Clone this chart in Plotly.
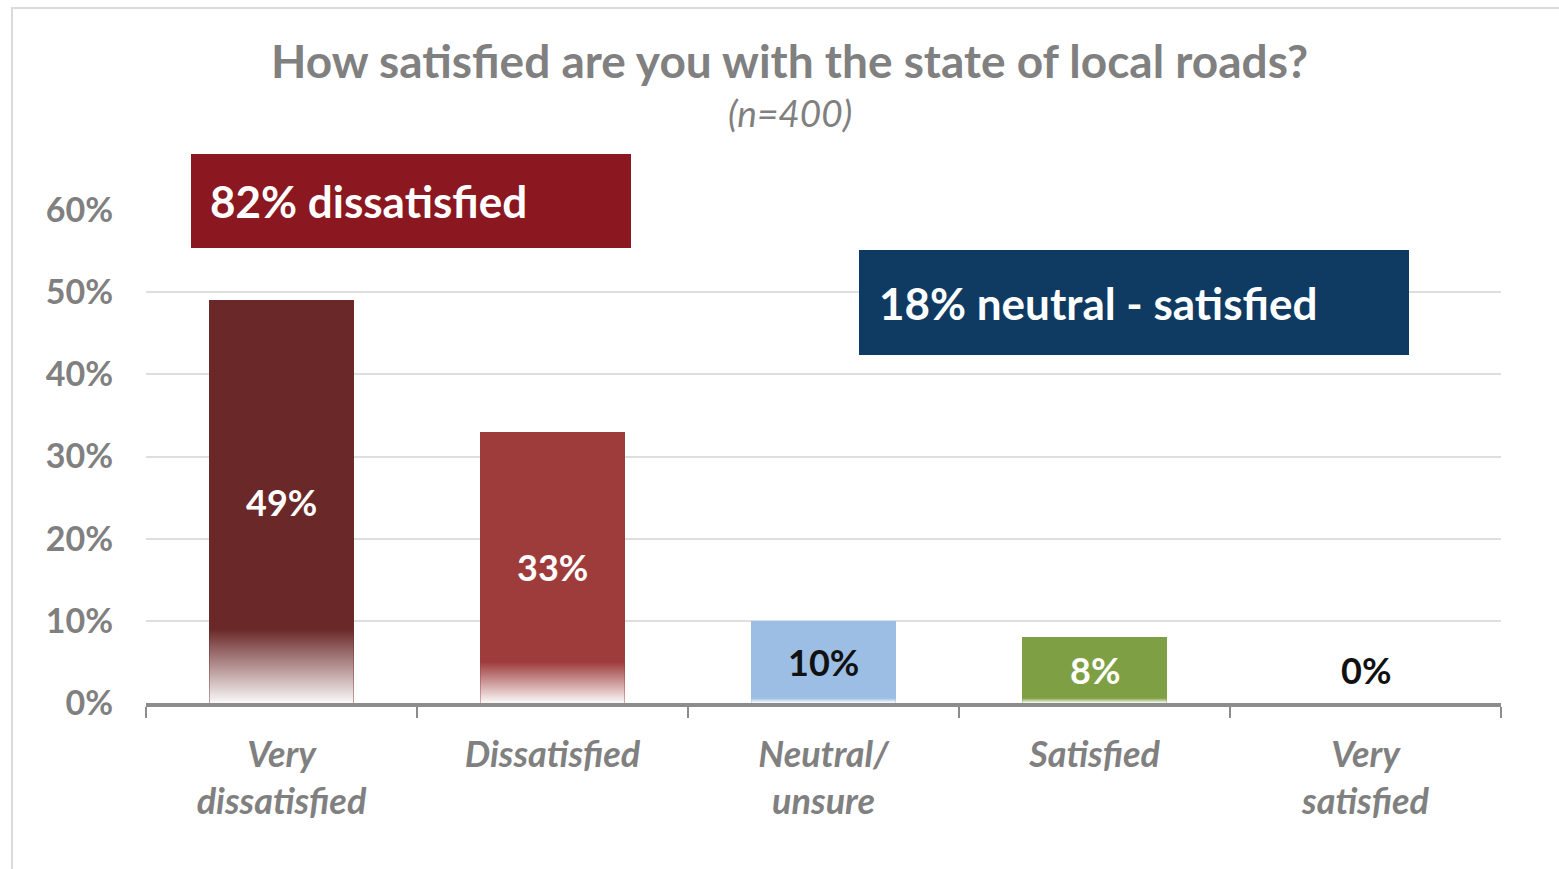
import plotly.graph_objects as go

# Survey responses
categories = ["Very<br>dissatisfied", "Dissatisfied", "Neutral/<br>unsure", "Satisfied", "Very<br>satisfied"]
shares = [0.49, 0.33, 0.10, 0.08, 0.00]
y_ticks = [0.0, 0.1, 0.2, 0.3, 0.4, 0.5, 0.6]
y_tick_labels = ["0%", "10%", "20%", "30%", "40%", "50%", "60%"]
dissatisfied_total = "82% dissatisfied"
satisfied_total = "18% neutral - satisfied"

# Styling
bar_colors = ["#6B2828", "#9E3B3B", "#9DBEE4", "#7F9F45", "#FFFFFF"]
label_colors = ["white", "white", "#111111", "white", "#111111"]
fade_heights = [0.09, 0.05, 0.006, 0.006, 0.0]
BAR_W = 0.532
FONT = "Lato"
GRAY = "#808080"

W, H = 1559, 869
L, R, T, B = 146, 58, 210, 166
plot_w, plot_h = W - L - R, H - T - B


def px_x(p):
    return (p - L) / plot_w


def px_y(p):
    return (H - B - p) / plot_h


xs = list(range(len(categories)))
fig = go.Figure()

fig.add_trace(go.Bar(
    x=xs, y=shares, width=BAR_W,
    marker=dict(color=bar_colors, line=dict(width=0)),
    hoverinfo="skip",
))

# White fade at the foot of each bar
for i, (v, f) in enumerate(zip(shares, fade_heights)):
    if v <= 0 or f <= 0:
        continue
    top = min(f, v)
    x0, x1 = i - BAR_W / 2, i + BAR_W / 2
    fig.add_trace(go.Scatter(
        x=[x0, x1, x1, x0, x0], y=[0, 0, top, top, 0],
        mode="lines", line=dict(width=0),
        fill="toself",
        fillgradient=dict(
            type="vertical", start=0, stop=top,
            colorscale=[[0, "rgba(255,255,255,0.97)"], [1, "rgba(255,255,255,0)"]],
        ),
        hoverinfo="skip", showlegend=False,
    ))

annotations = []
for i, v in enumerate(shares):
    annotations.append(dict(
        x=i, y=max(v / 2, 0.04), xref="x", yref="y", yanchor="middle",
        text=f"<b>{round(v * 100)}%</b>", showarrow=False,
        font=dict(family=FONT, size=36, color=label_colors[i]),
    ))

# Title and sample size
annotations.append(dict(
    x=px_x(789), y=px_y(60), xref="paper", yref="paper", yanchor="middle",
    text="<b>How satisfied are you with the state of local roads?</b>",
    showarrow=False, font=dict(family=FONT, size=46, color=GRAY),
))
annotations.append(dict(
    x=px_x(790), y=px_y(113), xref="paper", yref="paper", yanchor="middle",
    text="<i>(n=400)</i>",
    showarrow=False, font=dict(family=FONT, size=37, color=GRAY),
))

# Summary boxes
shapes = [
    dict(type="rect", xref="paper", yref="paper",
         x0=px_x(191), x1=px_x(631), y0=px_y(248), y1=px_y(154),
         fillcolor="#8B1820", line=dict(width=0), layer="above"),
    dict(type="rect", xref="paper", yref="paper",
         x0=px_x(859), x1=px_x(1409), y0=px_y(355), y1=px_y(250),
         fillcolor="#0F3B63", line=dict(width=0), layer="above"),
    dict(type="rect", xref="paper", yref="paper",
         x0=px_x(12), x1=px_x(1575), y0=px_y(885), y1=px_y(8),
         fillcolor="rgba(0,0,0,0)", line=dict(color="#DADADA", width=2), layer="below"),
]
annotations.append(dict(
    x=px_x(208), y=px_y(201), xref="paper", yref="paper", xanchor="left", yanchor="middle",
    text=f"<b>{dissatisfied_total}</b>", showarrow=False,
    font=dict(family=FONT, size=44, color="white"),
))
annotations.append(dict(
    x=px_x(877), y=px_y(303), xref="paper", yref="paper", xanchor="left", yanchor="middle",
    text=f"<b>{satisfied_total}</b>", showarrow=False,
    font=dict(family=FONT, size=44, color="white"),
))

fig.update_layout(
    width=W, height=H,
    margin=dict(l=L, r=R, t=T, b=B, pad=0),
    paper_bgcolor="white", plot_bgcolor="white",
    showlegend=False,
    bargap=0,
    shapes=shapes,
    annotations=annotations,
    xaxis=dict(
        range=[-0.5, len(categories) - 0.5],
        tickvals=xs,
        ticktext=[f"<b><i>{c}</i></b>" for c in categories],
        ticks="", ticklabelstandoff=17,
        tickfont=dict(family=FONT, size=36, color=GRAY),
        showgrid=False, zeroline=False,
        showline=True, linecolor="#8C8C8C", linewidth=4,
        minor=dict(
            tickvals=[i - 0.5 for i in range(len(categories) + 1)],
            ticks="outside", ticklen=11, tickwidth=2, tickcolor="#8C8C8C",
            showgrid=False,
        ),
        fixedrange=True,
    ),
    yaxis=dict(
        range=[0, 0.6],
        tickvals=y_ticks,
        ticktext=[f"<b>{t}</b>" for t in y_tick_labels],
        tickfont=dict(family=FONT, size=34, color=GRAY),
        ticks="", ticklabelstandoff=32,
        showgrid=True, gridcolor="#DEDEDE", gridwidth=2,
        zeroline=False, showline=False,
        fixedrange=True,
    ),
)

fig.write_html("out.html")
